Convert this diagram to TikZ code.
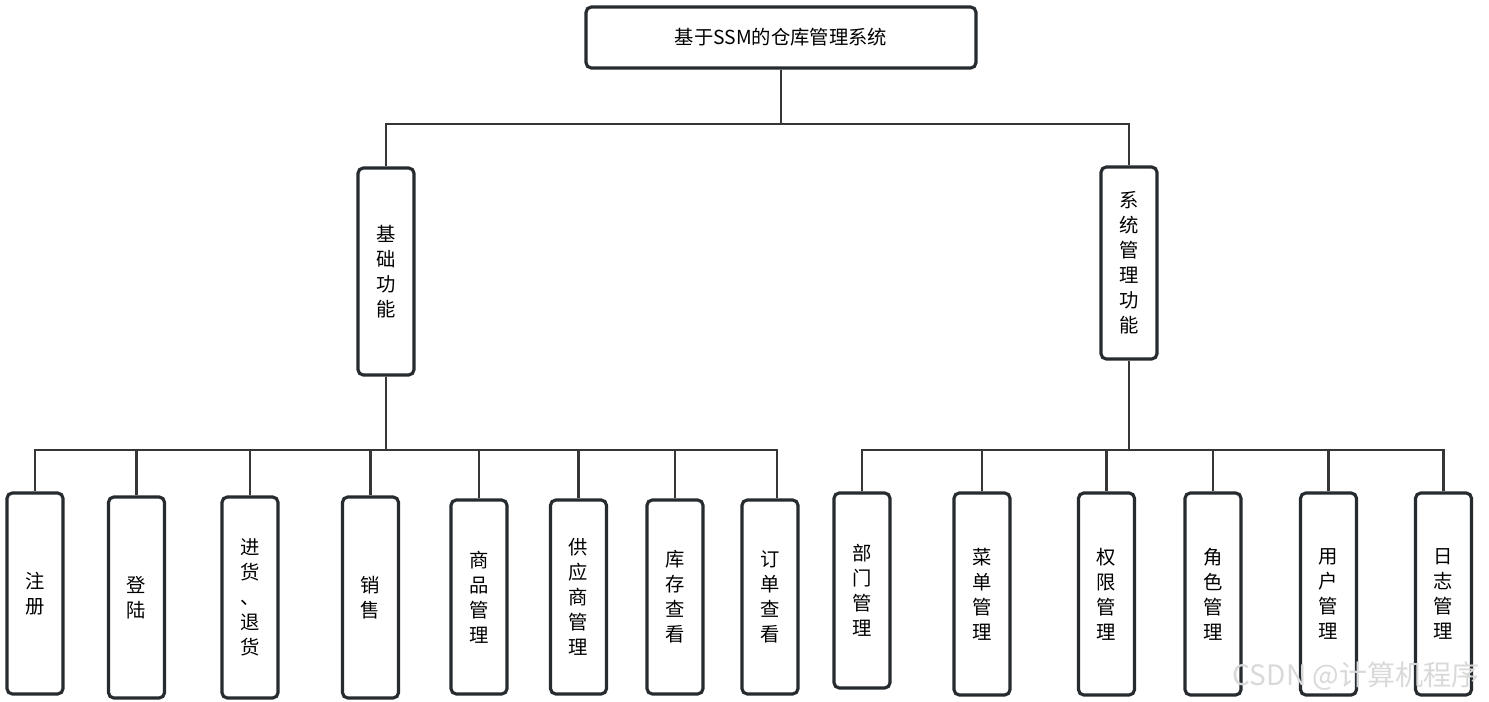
\documentclass[tikz,border=0pt]{standalone}
\usepackage{fontspec}
\setmainfont{Noto Sans CJK SC}
\usepackage{xcolor}
\usepackage{tikz}
\usetikzlibrary{positioning, calc}

\definecolor{boxline}{HTML}{262B30}
\definecolor{linkline}{HTML}{363636}
\tikzset{
  box/.style={draw=boxline, line width=1.8pt, rounded corners=3pt, fill=white,
    inner sep=0pt, align=center, font=\fontsize{11}{14.2}\selectfont},
  vbox/.style={box, minimum width=1.12cm},
  link/.style={draw=linkline, line width=1.6pt}
}

\begin{document}
\begin{tikzpicture}[x=0.02cm, y=-0.02cm]
  \useasboundingbox (0,0) rectangle (1489,702);

  % Root
  \node[box, minimum width=7.8cm, minimum height=1.22cm] (root) at (781,37.5) {基于SSM的仓库管理系统};

  % Second level
  \node[vbox, minimum height=4.14cm] (base) at (386,271.5) {基\\础\\功\\能};
  \node[vbox, minimum height=3.84cm] (admin) at (1129,263) {系\\统\\管\\理\\功\\能};

  % Leaves under base
  \node[vbox, minimum height=4.02cm] (zc) at (35,593.5) {注\\册};
  \node[vbox, minimum height=4.02cm] (dl) at (136.5,597.5) {登\\陆};
  \node[vbox, minimum height=4.02cm] (jh) at (250,597.5) {进\\货\\、\\退\\货};
  \node[vbox, minimum height=4.02cm] (xs) at (370.5,597.5) {销\\售};
  \node[vbox, minimum height=3.88cm] (sp) at (479,597) {商\\品\\管\\理};
  \node[vbox, minimum height=3.88cm] (gy) at (578.5,597) {供\\应\\商\\管\\理};
  \node[vbox, minimum height=3.88cm] (kc) at (675,597) {库\\存\\查\\看};
  \node[vbox, minimum height=3.88cm] (dd) at (770,597) {订\\单\\查\\看};

  % Leaves under admin
  \node[vbox, minimum height=3.9cm] (bm) at (862,590.5) {部\\门\\管\\理};
  \node[vbox, minimum height=4.04cm] (cd) at (982,594) {菜\\单\\管\\理};
  \node[vbox, minimum height=4.04cm] (qx) at (1106.5,594) {权\\限\\管\\理};
  \node[vbox, minimum height=4.04cm] (js) at (1213,594) {角\\色\\管\\理};
  \node[vbox, minimum height=4.04cm] (yh) at (1328.5,594) {用\\户\\管\\理};
  \node[vbox, minimum height=4.04cm] (rz) at (1443.5,594) {日\\志\\管\\理};

  % Bus points
  \coordinate (topbus) at (781,124);
  \coordinate (busL) at (386,450);
  \coordinate (busR) at (1129,450);

  % Connectors
  \draw[link] (root.south) -- (topbus);
  \draw[link] (topbus) -| (base.north);
  \draw[link] (topbus) -| (admin.north);
  \draw[link] (base.south) -- (busL);
  \draw[link] (admin.south) -- (busR);
  \foreach \n in {zc,dl,jh,xs,sp,gy,kc}
    \draw[link] (busL) -| (\n.north);
  \draw[link] (busL) -| ([xshift=0.14cm]dd.north);
  \foreach \n in {bm,cd,qx,js,yh,rz}
    \draw[link] (busR) -| (\n.north);

  % Watermark
  \node[text=gray!30, font=\fontsize{16}{16}\selectfont, anchor=east] (mark) at (1486,676) {CSDN @计算机程序};
\end{tikzpicture}
\end{document}
